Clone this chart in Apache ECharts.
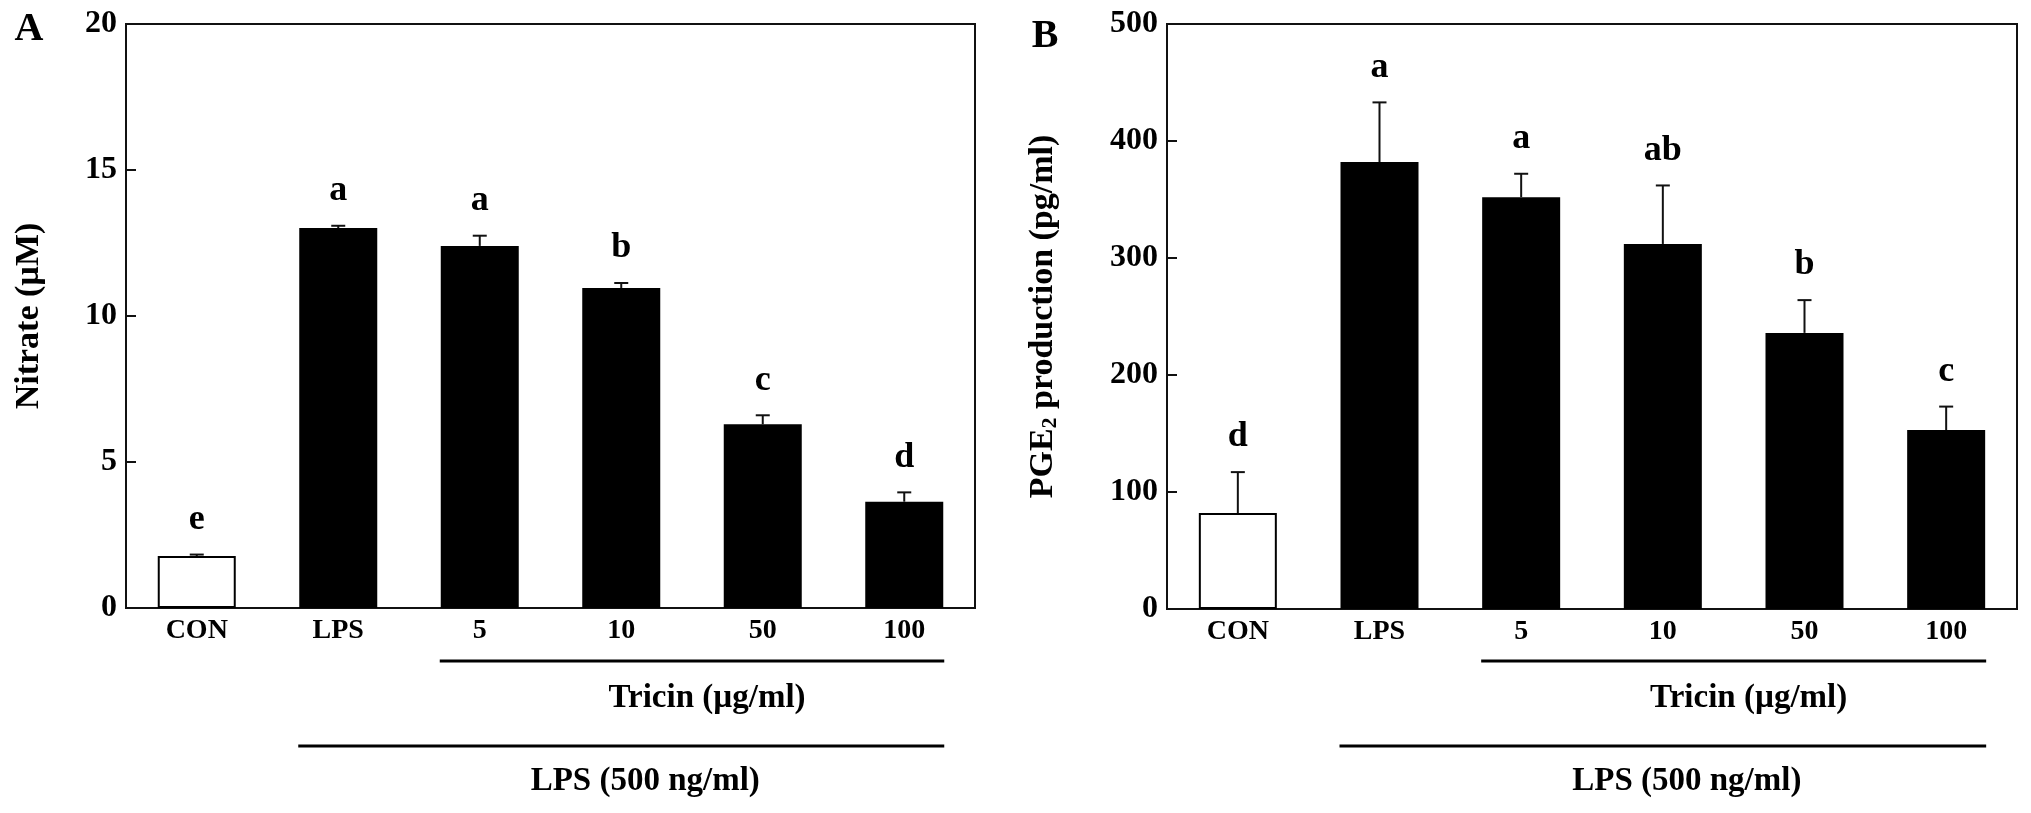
<!DOCTYPE html>
<html>
<head>
<meta charset="utf-8">
<script src="https://cdn.jsdelivr.net/npm/echarts@6/dist/echarts.min.js"></script>
<style>
html,body{margin:0;padding:0;background:#fff;}
#c{width:2031px;height:813px;}
</style>
</head>
<body>
<div id="c"></div>
<script>
// ---- data ----
const categories = ['CON', 'LPS', '5', '10', '50', '100'];
const nitrateMean = [1.78, 13.01, 12.40, 10.96, 6.29, 3.64];
const nitrateErr  = [0.05, 0.08, 0.35, 0.17, 0.31, 0.32];
const nitrateLetters = ['e', 'a', 'a', 'b', 'c', 'd'];
const pgeMean = [82, 382, 352, 312, 236, 153];
const pgeErr  = [35, 51, 20, 50, 28, 20];
const pgeLetters = ['d', 'a', 'a', 'ab', 'b', 'c'];
const nitrateTicks = { min: 0, max: 20, interval: 5 };
const pgeTicks = { min: 0, max: 500, interval: 100 };

const FONT = '"Liberation Serif", "Times New Roman", serif';
const INK = '#111';

function errSeries(axisIdx, means, errs, letters) {
  return {
    type: 'custom',
    xAxisIndex: axisIdx, yAxisIndex: axisIdx,
    z: 5,
    encode: { x: 0, y: 1 },
    data: means.map((m, i) => [i, m, errs[i]]),
    renderItem: function (params, api) {
      const x = api.value(0), m = api.value(1), e = api.value(2);
      const base = api.coord([x, m]);
      const top = api.coord([x, m + e]);
      return {
        type: 'group',
        children: [
          { type: 'line', shape: { x1: top[0], y1: base[1], x2: top[0], y2: top[1] }, style: { stroke: INK, lineWidth: 2 } },
          { type: 'line', shape: { x1: top[0] - 7, y1: top[1], x2: top[0] + 7, y2: top[1] }, style: { stroke: INK, lineWidth: 2 } },
          { type: 'text', style: { text: letters[params.dataIndex], x: top[0], y: top[1] - 35, align: 'center', verticalAlign: 'middle', fontSize: 36, fontWeight: 'bold', fontFamily: FONT, fill: '#000' } }
        ]
      };
    }
  };
}

function barSeries(axisIdx, means) {
  return {
    type: 'bar',
    xAxisIndex: axisIdx, yAxisIndex: axisIdx,
    barWidth: 78,
    data: means,
    itemStyle: {
      color: function (p) { return p.dataIndex === 0 ? '#fff' : '#000'; },
      borderColor: '#000',
      borderWidth: 2
    }
  };
}

function xAx(gi) {
  return {
    type: 'category', gridIndex: gi, data: categories,
    axisLine: { lineStyle: { color: INK, width: 2 } },
    axisTick: { show: false },
    axisLabel: { fontFamily: FONT, fontWeight: 'bold', fontSize: 28, color: '#000', margin: 9 }
  };
}
function yAx(gi, t, name, nameGap, rich) {
  const o = {
    type: 'value', gridIndex: gi, min: t.min, max: t.max, interval: t.interval,
    name: name, nameLocation: 'middle', nameGap: nameGap,
    nameTextStyle: { fontFamily: FONT, fontWeight: 'bold', fontSize: 34, color: '#000' },
    axisLine: { show: true, lineStyle: { color: INK, width: 2 } },
    axisTick: { show: true, inside: true, length: 10, lineStyle: { color: INK, width: 2 } },
    splitLine: { show: false },
    axisLabel: { fontFamily: FONT, fontWeight: 'bold', fontSize: 32, color: '#000', margin: 9 }
  };
  if (rich) o.nameTextStyle.rich = rich;
  return o;
}

const chart = echarts.init(document.getElementById('c'), null, { renderer: 'canvas' });
chart.setOption({
  backgroundColor: '#fff',
  animation: false,
  grid: [
    { left: 126, top: 24, width: 849, height: 584, show: true, borderColor: INK, borderWidth: 2, backgroundColor: '#fff' },
    { left: 1167, top: 24, width: 850, height: 585, show: true, borderColor: INK, borderWidth: 2, backgroundColor: '#fff' }
  ],
  xAxis: [xAx(0), xAx(1)],
  yAxis: [
    yAx(0, nitrateTicks, 'Nitrate (µM)', 80),
    yAx(1, pgeTicks, '{m|PGE}{s|2}{m| production (pg/ml)}', 106, {
      m: { fontFamily: FONT, fontWeight: 'bold', fontSize: 34, color: '#000' },
      s: { fontFamily: FONT, fontWeight: 'bold', fontSize: 22, color: '#000', padding: [14, 0, 0, 0] }
    })
  ],
  series: [
    barSeries(0, nitrateMean), errSeries(0, nitrateMean, nitrateErr, nitrateLetters),
    barSeries(1, pgeMean), errSeries(1, pgeMean, pgeErr, pgeLetters)
  ]
});

// annotation lines/text under the axes, positioned from the category axis
function annot(ai) {
  const c = i => chart.convertToPixel({ xAxisIndex: ai }, i);
  const half = 40;
  const els = [];
  const tx1 = c(2) - half, tx2 = c(5) + half;
  const lx1 = c(1) - half, lx2 = c(5) + half;
  els.push({ type: 'line', shape: { x1: tx1, y1: 661, x2: tx2, y2: 661 }, style: { stroke: '#000', lineWidth: 3 } });
  els.push({ type: 'line', shape: { x1: lx1, y1: 746, x2: lx2, y2: 746 }, style: { stroke: '#000', lineWidth: 3 } });
  els.push({ type: 'text', x: (c(2) + c(5)) / 2 + 15, y: 698, style: { text: 'Tricin (µg/ml)', align: 'center', verticalAlign: 'middle', fontSize: 33, fontWeight: 'bold', fontFamily: FONT, fill: '#000' } });
  els.push({ type: 'text', x: (c(1) + c(5)) / 2 + 24, y: 781, style: { text: 'LPS (500 ng/ml)', align: 'center', verticalAlign: 'middle', fontSize: 33, fontWeight: 'bold', fontFamily: FONT, fill: '#000' } });
  return els;
}
const g = [].concat(annot(0), annot(1));
g.push({ type: 'text', x: 29, y: 30, style: { text: 'A', align: 'center', verticalAlign: 'middle', fontSize: 40, fontWeight: 'bold', fontFamily: FONT, fill: '#000' } });
g.push({ type: 'text', x: 1045, y: 37, style: { text: 'B', align: 'center', verticalAlign: 'middle', fontSize: 40, fontWeight: 'bold', fontFamily: FONT, fill: '#000' } });
chart.setOption({ graphic: g });
</script>
</body>
</html>
